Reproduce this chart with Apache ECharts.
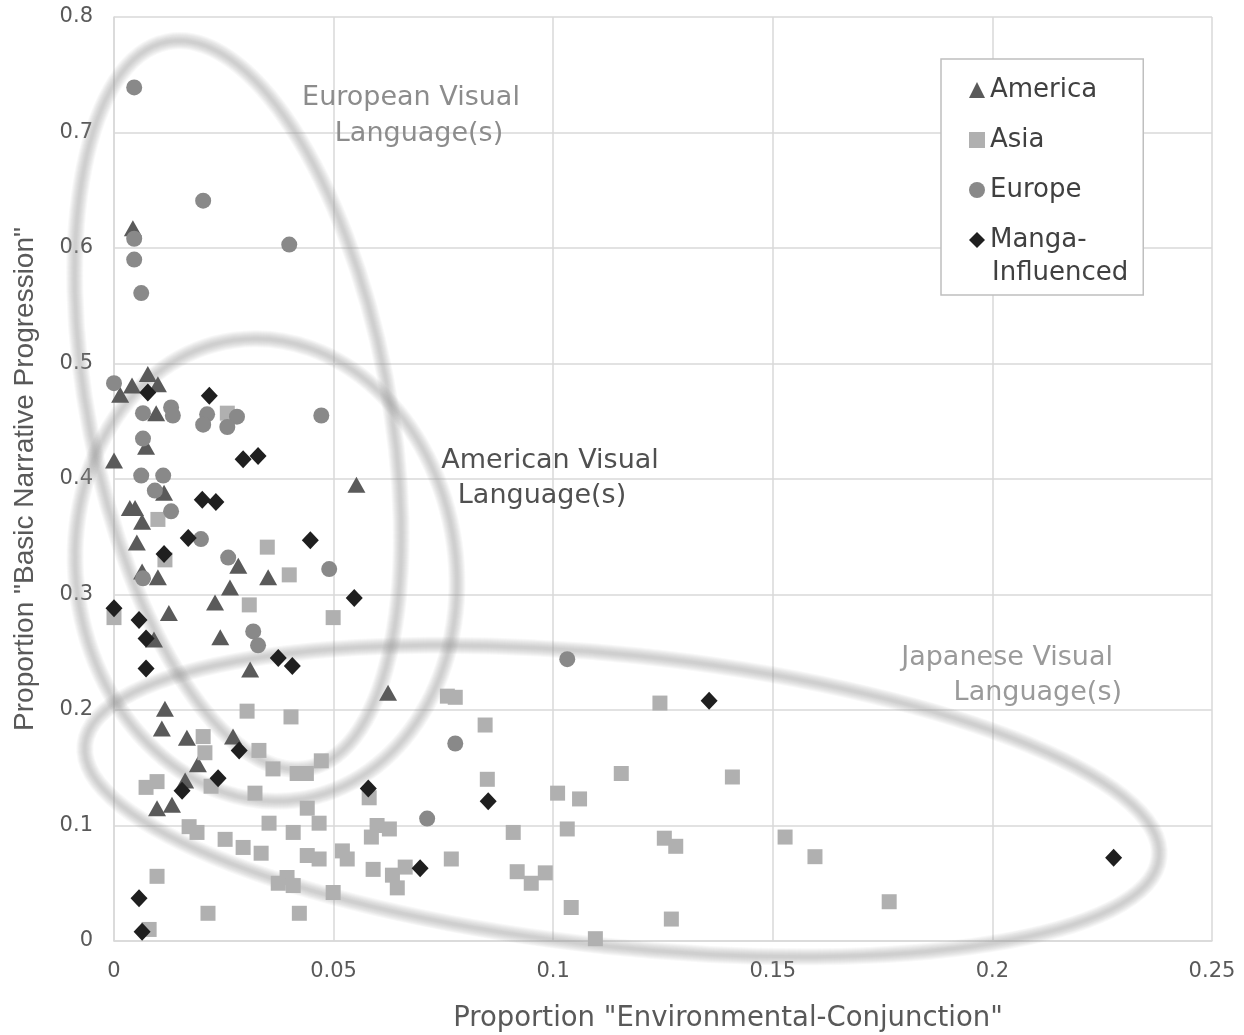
<!DOCTYPE html>
<html>
<head>
<meta charset="utf-8">
<script src="https://cdn.jsdelivr.net/npm/echarts@6/dist/echarts.min.js"></script>
<style>
html,body{margin:0;padding:0;background:#fff;}
#chart{width:1244px;height:1035px;}
</style>
</head>
<body>
<div id="chart"></div>
<script>
// ---- data (x = proportion Environmental-Conjunction, y = proportion Basic Narrative Progression)
const seriesNames = ['America', 'Asia', 'Europe', 'Manga-Influenced'];

const americaData = [
  [0.0043,0.617],[0.0041,0.481],[0.0077,0.491],[0.0100,0.482],[0.0014,0.473],[0.0096,0.457],
  [0.0073,0.428],[0.0000,0.416],[0.0114,0.388],[0.0036,0.375],[0.0048,0.375],[0.0064,0.363],
  [0.0052,0.345],[0.0283,0.325],[0.0064,0.320],[0.0100,0.315],[0.0351,0.315],[0.0264,0.306],
  [0.0230,0.293],[0.0125,0.284],[0.0091,0.261],[0.0242,0.263],[0.0310,0.235],[0.0116,0.201],
  [0.0109,0.184],[0.0166,0.176],[0.0271,0.177],[0.0191,0.153],[0.0162,0.139],[0.0098,0.115],
  [0.0132,0.118],[0.0552,0.395],[0.0624,0.215]
];

const asiaData = [
  [0.0258,0.457],[0.0100,0.365],[0.0116,0.330],[0.0349,0.341],[0.0399,0.317],[0.0308,0.291],
  [0.0000,0.280],[0.0499,0.280],[0.0303,0.199],[0.0403,0.194],[0.0203,0.177],[0.0207,0.163],
  [0.0330,0.165],[0.0362,0.149],[0.0417,0.145],[0.0438,0.145],[0.0472,0.156],[0.0098,0.138],
  [0.0073,0.133],[0.0221,0.134],[0.0321,0.128],[0.0440,0.115],[0.0353,0.102],[0.0467,0.102],
  [0.0171,0.099],[0.0189,0.094],[0.0408,0.094],[0.0253,0.088],[0.0294,0.081],[0.0335,0.076],
  [0.0440,0.074],[0.0467,0.071],[0.0520,0.078],[0.0531,0.071],[0.0098,0.056],[0.0374,0.050],
  [0.0394,0.055],[0.0408,0.048],[0.0499,0.042],[0.0214,0.024],[0.0422,0.024],[0.0080,0.010],
  [0.0759,0.212],[0.0777,0.211],[0.0845,0.187],[0.1155,0.145],[0.0850,0.140],[0.0581,0.124],
  [0.1010,0.128],[0.1060,0.123],[0.0909,0.094],[0.1032,0.097],[0.0599,0.100],[0.0627,0.097],
  [0.0586,0.090],[0.0590,0.062],[0.0634,0.057],[0.0663,0.064],[0.0645,0.046],[0.0768,0.071],
  [0.0918,0.060],[0.0950,0.050],[0.0982,0.059],[0.1041,0.029],[0.1096,0.002],[0.1243,0.206],
  [0.1408,0.142],[0.1253,0.089],[0.1279,0.082],[0.1528,0.090],[0.1596,0.073],[0.1765,0.034],
  [0.1269,0.019]
];

const europeData = [
  [0.0046,0.739],[0.0203,0.641],[0.0046,0.608],[0.0399,0.603],[0.0046,0.590],[0.0062,0.561],
  [0.0000,0.483],[0.0066,0.457],[0.0130,0.462],[0.0134,0.455],[0.0212,0.456],[0.0203,0.447],
  [0.0280,0.454],[0.0258,0.445],[0.0472,0.455],[0.0066,0.435],[0.0062,0.403],[0.0112,0.403],
  [0.0093,0.390],[0.0130,0.372],[0.0198,0.348],[0.0260,0.332],[0.0066,0.314],[0.0490,0.322],
  [0.0317,0.268],[0.0328,0.256],[0.1032,0.244],[0.0777,0.171],[0.0713,0.106]
];

const mangaData = [
  [0.0077,0.475],[0.0217,0.472],[0.0294,0.417],[0.0328,0.420],[0.0201,0.382],[0.0232,0.380],
  [0.0169,0.349],[0.0447,0.347],[0.0114,0.335],[0.0547,0.297],[0.0000,0.288],[0.0057,0.278],
  [0.0073,0.262],[0.0374,0.245],[0.0406,0.238],[0.0073,0.236],[0.0285,0.165],[0.0237,0.141],
  [0.0155,0.130],[0.0579,0.132],[0.0852,0.121],[0.0697,0.063],[0.0057,0.037],[0.0064,0.008],
  [0.1355,0.208],[0.2276,0.072]
];

// axis ranges / ticks
const xMin = 0, xMax = 0.25, xStep = 0.05;
const yMin = 0, yMax = 0.8, yStep = 0.1;

// annotation labels
const regionLabels = {
  european: ['European Visual', 'Language(s)'],
  american: ['American Visual', 'Language(s)'],
  japanese: ['Japanese Visual', 'Language(s)']
};

const chart = echarts.init(document.getElementById('chart'), null, {renderer: 'canvas'});

const gridColor = '#d9d9d9';
const deg = Math.PI / 180;

// soft, blurred ring: many concentric strokes of decreasing width (smooth profile)
function ring(cx, cy, rx, ry, rotDeg) {
  const widths = [17, 15, 13, 11, 9, 7, 5, 3];
  return widths.map(w => ({
    type: 'ellipse', x: cx, y: cy, rotation: rotDeg * deg, z: 1, silent: true,
    shape: {cx: 0, cy: 0, rx: rx, ry: ry},
    style: {fill: 'none', stroke: 'rgba(150,150,150,0.065)', lineWidth: w}
  }));
}

function txt(text, x, y, color, align) {
  return {
    type: 'text', x: x, y: y, z: 3,
    style: {
      text: text, fill: color, align: align || 'center', verticalAlign: 'middle',
      font: '27px "DejaVu Sans"'
    }
  };
}

const option = {
  backgroundColor: '#ffffff',
  animation: false,
  grid: {left: 114, right: 32, top: 17, bottom: 94, outerBoundsMode: 'none', containLabel: false},
  xAxis: {
    type: 'value', min: xMin, max: xMax, interval: xStep,
    name: 'Proportion "Environmental-Conjunction"',
    nameLocation: 'middle', nameGap: 64,
    nameTextStyle: {fontFamily: 'DejaVu Sans', fontSize: 27.5, color: '#595959', padding: [0, 0, 0, 130]},
    axisLine: {show: true, lineStyle: {color: gridColor, width: 1.5}},
    axisTick: {show: false},
    axisLabel: {fontFamily: 'DejaVu Sans', fontSize: 21, color: '#595959', margin: 20,
      formatter: v => String(+v.toFixed(2))},
    splitLine: {show: true, lineStyle: {color: gridColor, width: 1.5}}
  },
  yAxis: {
    type: 'value', min: yMin, max: yMax, interval: yStep,
    name: 'Proportion "Basic Narrative Progression"',
    nameLocation: 'middle', nameGap: 75,
    nameTextStyle: {fontFamily: 'Liberation Sans', fontSize: 28, color: '#595959'},
    axisLine: {show: true, lineStyle: {color: gridColor, width: 1.5}},
    axisTick: {show: false},
    axisLabel: {fontFamily: 'DejaVu Sans', fontSize: 21, color: '#595959', margin: 21,
      formatter: v => String(+v.toFixed(1))},
    splitLine: {show: true, lineStyle: {color: gridColor, width: 1.5}}
  },
  legend: {
    orient: 'vertical', left: 941, top: 59,
    padding: [15, 46, 39, 28],
    itemGap: 18, itemWidth: 16, itemHeight: 16,
    borderColor: '#bfbfbf', borderWidth: 1.5, backgroundColor: '#ffffff',
    textStyle: {fontFamily: 'DejaVu Sans', fontSize: 26, color: '#404040', lineHeight: 32},
    formatter: name => name === 'Manga-Influenced' ? 'Manga-' : name,
    data: seriesNames
  },
  graphic: [].concat(
    ring(238, 405, 150, 370, 11),
    ring(266, 570, 190, 232, 8),
    ring(622, 801, 540, 146, -6),
    [
      txt(regionLabels.european[0], 411, 98, '#8c8c8c'),
      txt(regionLabels.european[1], 419, 134, '#8c8c8c'),
      txt(regionLabels.american[0], 550, 461, '#505050'),
      txt(regionLabels.american[1], 542, 496, '#505050'),
      txt(regionLabels.japanese[0], 1113, 658, '#9a9a9a', 'right'),
      txt(regionLabels.japanese[1], 1122, 693, '#9a9a9a', 'right'),
      {type: 'text', x: 992, y: 273, z: 10,
        style: {text: 'Influenced', fill: '#404040', align: 'left', verticalAlign: 'middle',
          font: '26px "DejaVu Sans"'}}
    ]
  ),
  series: [
    {name: seriesNames[0], type: 'scatter', data: americaData, symbol: 'triangle',
      symbolSize: [18, 16], itemStyle: {color: '#5a5a5a', opacity: 1}, z: 2},
    {name: seriesNames[1], type: 'scatter', data: asiaData, symbol: 'rect',
      symbolSize: 15, itemStyle: {color: '#b0b0b0', opacity: 1}, z: 3},
    {name: seriesNames[2], type: 'scatter', data: europeData, symbol: 'circle',
      symbolSize: 16, itemStyle: {color: '#898989', opacity: 1}, z: 4},
    {name: seriesNames[3], type: 'scatter', data: mangaData, symbol: 'diamond',
      symbolSize: [17, 18], itemStyle: {color: '#1f1f1f', opacity: 1}, z: 5}
  ]
};
chart.setOption(option);
</script>
</body>
</html>
